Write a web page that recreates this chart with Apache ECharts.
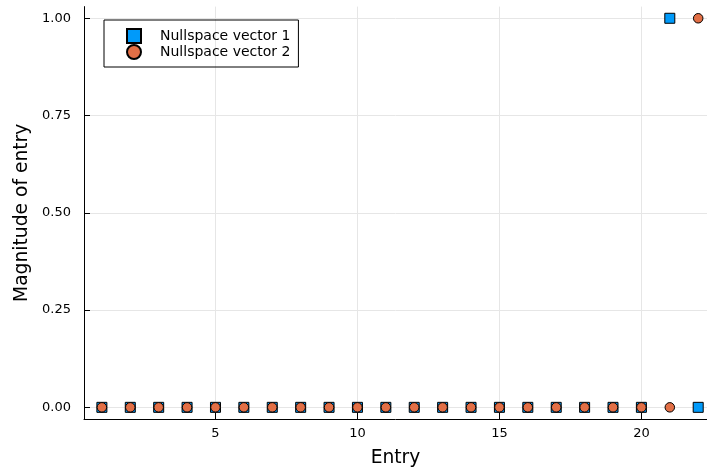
<!DOCTYPE html>
<html>
<head>
<meta charset="utf-8">
<script src="https://cdn.jsdelivr.net/npm/echarts@6/dist/echarts.min.js"></script>
<style>html,body{margin:0;padding:0;background:#fff}#c{width:707px;height:473px}</style>
</head>
<body>
<div id="c"></div>
<script>
const entries = [1,2,3,4,5,6,7,8,9,10,11,12,13,14,15,16,17,18,19,20,21,22];
const vector1 = [0,0,0,0,0,0,0,0,0,0,0,0,0,0,0,0,0,0,0,0,1,0];
const vector2 = [0,0,0,0,0,0,0,0,0,0,0,0,0,0,0,0,0,0,0,0,0,1];
const xTicks = [5,10,15,20];
const yTicks = [0,0.25,0.5,0.75,1];
const seriesNames = ['Nullspace vector 1','Nullspace vector 2'];

const font = 'DejaVu Sans';
const chart = echarts.init(document.getElementById('c'), null, {renderer:'canvas'});
chart.setOption({
  animation:false,
  backgroundColor:'#fff',
  textStyle:{fontFamily:font},
  grid:{left:84, right:0, top:6.6, bottom:53, containLabel:false},
  legend:{
    left:104, top:20, orient:'vertical', itemGap:0,
    padding:[8,8,7,22],
    borderColor:'#000', borderWidth:1, borderRadius:0,
    itemWidth:14, itemHeight:14,
    textStyle:{fontFamily:font, fontSize:14, lineHeight:14, color:'#000', padding:[0,0,0,14]},
    data:[{name:seriesNames[0], icon:'rect'},{name:seriesNames[1], icon:'circle'}]
  },
  xAxis:{
    type:'value', min:0.37, max:22.31,
    name:'Entry', nameLocation:'middle', nameGap:30,
    nameTextStyle:{fontFamily:font, fontSize:18.7, color:'#000'},
    axisLine:{show:true, onZero:false, lineStyle:{color:'#000', width:1}},
    axisTick:{show:true, inside:true, length:6, customValues:xTicks, lineStyle:{color:'#000'}},
    axisLabel:{customValues:xTicks, fontFamily:font, fontSize:13, color:'#000', margin:8},
    splitLine:{show:true, lineStyle:{color:'#e6e6e6', width:1}}
  },
  yAxis:{
    type:'value', min:-0.03, max:1.03,
    name:'Magnitude of entry', nameLocation:'middle', nameGap:51, nameRotate:90,
    nameTextStyle:{fontFamily:font, fontSize:18.7, color:'#000'},
    axisLine:{show:true, onZero:false, lineStyle:{color:'#000', width:1}},
    axisTick:{show:true, inside:true, length:6, customValues:yTicks, lineStyle:{color:'#000'}},
    axisLabel:{customValues:yTicks, fontFamily:font, fontSize:13, color:'#000', margin:13,
      formatter:v=>v.toFixed(2)},
    splitLine:{show:true, lineStyle:{color:'#e6e6e6', width:1}}
  },
  series:[
    {name:seriesNames[0], type:'scatter', symbol:'rect', symbolSize:10,
     itemStyle:{color:'#009AFA', borderColor:'#000', borderWidth:1, opacity:1},
     data:entries.map((e,i)=>[e,vector1[i]])},
    {name:seriesNames[1], type:'scatter', symbol:'circle', symbolSize:9.5,
     itemStyle:{color:'#E26F46', borderColor:'#000', borderWidth:1, opacity:1},
     data:entries.map((e,i)=>[e,vector2[i]])}
  ]
});
</script>
</body>
</html>
